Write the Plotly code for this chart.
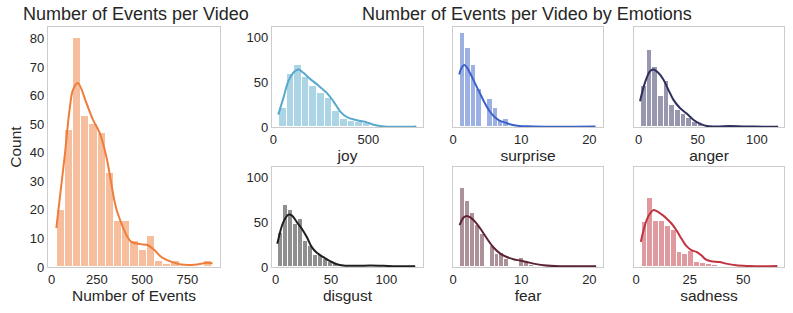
import plotly.graph_objects as go

W, H = 793, 313

# ---------------- data ----------------
total_bin_start, total_bin_width = 27, 45.3
total_counts = [20, 48, 80, 53, 50, 47, 33, 16, 16, 9, 6, 11, 2, 1, 2, 0, 0, 0, 2]
total_kde_x = [26, 72, 99, 118, 145, 192, 228, 265, 302, 346, 365, 438, 493, 530, 567, 604, 659, 714, 788, 862, 889]
total_kde_y = [13.6, 38.7, 55, 62, 64.4, 57.4, 51.6, 47, 38.7, 23.5, 18.8, 8.9, 8.0, 7.7, 6.0, 3.6, 1.9, 0.9, 0.8, 1.5, 1.2]

emotions = ["joy", "surprise", "anger", "disgust", "fear", "sadness"]

joy_bin_start, joy_bin_width = 30, 40
joy_counts = [21, 59, 70, 56, 46, 38, 32, 18, 9, 7, 6, 5, 1, 0, 0, 0, 0, 1]
joy_kde_x = [26, 53, 79, 105, 132, 158, 193, 237, 281, 316, 351, 386, 439, 492, 527, 582, 653, 723, 752]
joy_kde_y = [13.9, 32.6, 51.3, 60.7, 64.4, 60.7, 53.9, 46.4, 38.2, 28.8, 17.6, 11.2, 7.5, 5.2, 2.6, 0.7, 0.4, 0.4, 0.7]

surprise_bin_start, surprise_bin_width = 1.0, 0.8
surprise_counts = [105, 88, 70, 43, 0, 31, 21, 7, 9, 0, 1, 1, 0, 0, 1, 0, 0, 0, 0, 0, 0, 0, 0, 0, 1]
surprise_kde_x = [0.92, 1.26, 1.6, 1.99, 2.47, 3.2, 3.92, 4.65, 5.38, 6.1, 6.83, 7.8, 8.77, 9.74, 11.7, 15.5, 20.9]
surprise_kde_y = [58.8, 66.3, 69.3, 67.4, 60.7, 49.4, 38.2, 27, 17.6, 11.2, 7.1, 4.5, 2.2, 1.1, 0.7, 0.4, 0.7]

anger_bin_start, anger_bin_width = 2.1, 4.79
anger_counts = [46, 86, 67, 35, 52, 25, 19, 15, 10, 6, 3, 2, 1, 0, 1, 1, 0, 0, 0, 0, 0, 0, 0, 1]
anger_kde_x = [1.3, 4.1, 6.9, 9.7, 12.5, 16.7, 21, 25.2, 29.4, 35, 40.7, 46.3, 51.9, 57.6, 66, 77.3, 88.5, 105.4, 118]
anger_kde_y = [28.8, 43.8, 55, 62.5, 64.4, 60.7, 53.2, 41.9, 30.7, 21.3, 15, 8.2, 3.7, 1.1, 0.7, 1.1, 0.7, 0.4, 0.4]

disgust_bin_start, disgust_bin_width = 2.5, 4.52
disgust_counts = [38, 69, 64, 48, 54, 29, 24, 13, 14, 9, 6, 4, 2, 1, 1, 0, 1, 1, 0, 0, 1, 0, 0, 0, 0, 0, 0, 1]
disgust_kde_x = [1.6, 4.1, 7, 11.6, 14.6, 19.2, 23.7, 28.2, 32.7, 37.2, 43.2, 49.2, 55.3, 61.2, 73.4, 85.4, 97.4, 109.5, 126]
disgust_kde_y = [26, 39, 50.3, 58.6, 57.9, 50.3, 42.9, 33.5, 22.2, 15.9, 11, 6.5, 3.1, 1.7, 1.3, 1.7, 1.3, 0.9, 0.9]

fear_bin_start, fear_bin_width = 1.0, 0.727
fear_counts = [88, 74, 61, 47, 37, 0, 24, 15, 16, 9, 0, 0, 10, 6, 2, 1, 0, 1, 0, 0, 0, 1, 0, 0, 0, 0, 0, 1]
fear_kde_x = [0.97, 1.55, 2.05, 2.53, 3.26, 4.0, 4.98, 5.95, 6.93, 7.9, 8.87, 9.85, 10.8, 11.8, 13.3, 15.7, 18.2, 21]
fear_kde_y = [46.8, 55.5, 57, 55.5, 50.6, 43.1, 31.9, 21.8, 15, 11.2, 8.7, 7.2, 5.6, 3.8, 1.9, 0.8, 0.8, 0.8]

sadness_bin_start, sadness_bin_width = 2.5, 2.73
sadness_counts = [50, 77, 52, 51, 46, 42, 17, 15, 18, 6, 5, 3, 2, 1, 1, 1, 0, 0, 0, 1, 0, 0, 0, 1]
sadness_kde_x = [2.2, 3.4, 4.9, 6.5, 8, 9.6, 11.9, 14.2, 16.5, 18.8, 21.1, 23.5, 25.8, 28.1, 30.4, 32.7, 35, 38.9, 42, 46.6, 52.8, 58.9, 65.9]
sadness_kde_y = [28.1, 40.5, 52.5, 60, 63.7, 62.6, 58.9, 54.4, 48.7, 41.2, 31.9, 23.3, 18.8, 16.9, 13.1, 8.2, 6.4, 5.6, 3.8, 1.9, 1.1, 0.8, 1.1]

total_ticks = [0, 250, 500, 750]
count_ticks = [0, 10, 20, 30, 40, 50, 60, 70, 80]
emotion_count_ticks = [0, 50, 100]
emotion_ticks = {
    "joy": [0, 500], "surprise": [0, 10, 20], "anger": [0, 50, 100],
    "disgust": [0, 50, 100], "fear": [0, 10, 20], "sadness": [0, 25, 50],
}

# ---------------- styling ----------------
FONT = "Liberation Sans, Arial, Helvetica, sans-serif"
TXT = "#262626"
SPINE = "#cccccc"

line_colors = {
    "total": "#ee7d3b", "joy": "#58a9cc", "surprise": "#3c62c8", "anger": "#2f2f5e",
    "disgust": "#1f1f1f", "fear": "#5c2333", "sadness": "#c03440",
}

x_ranges = {
    "total": [-20, 930], "joy": [-7, 787], "surprise": [0, 22], "anger": [-3.8, 122.9],
    "disgust": [-3.2, 133], "fear": [0, 22], "sadness": [-1, 69],
}


def rgba(hexc, a):
    h = hexc.lstrip("#")
    r, g, b = int(h[0:2], 16), int(h[2:4], 16), int(h[4:6], 16)
    return f"rgba({r},{g},{b},{a})"


# pixel boxes (left, top, right, bottom)
boxes = {
    "total": (48, 27, 220, 267),
    "joy": (272, 27, 423, 127), "surprise": (453, 27, 603, 127), "anger": (634, 27, 784, 127),
    "disgust": (272, 167, 423, 267), "fear": (453, 167, 603, 267), "sadness": (634, 167, 784, 267),
}

data = {
    "total": (total_bin_start, total_bin_width, total_counts, total_kde_x, total_kde_y),
    "joy": (joy_bin_start, joy_bin_width, joy_counts, joy_kde_x, joy_kde_y),
    "surprise": (surprise_bin_start, surprise_bin_width, surprise_counts, surprise_kde_x, surprise_kde_y),
    "anger": (anger_bin_start, anger_bin_width, anger_counts, anger_kde_x, anger_kde_y),
    "disgust": (disgust_bin_start, disgust_bin_width, disgust_counts, disgust_kde_x, disgust_kde_y),
    "fear": (fear_bin_start, fear_bin_width, fear_counts, fear_kde_x, fear_kde_y),
    "sadness": (sadness_bin_start, sadness_bin_width, sadness_counts, sadness_kde_x, sadness_kde_y),
}

fig = go.Figure()
layout = {}
panels = ["total"] + emotions
for i, name in enumerate(panels):
    idx = i + 1
    xa = "x" if idx == 1 else f"x{idx}"
    ya = "y" if idx == 1 else f"y{idx}"
    start, width, counts, kx, ky = data[name]
    centers = [start + width * (k + 0.5) for k in range(len(counts))]
    col = line_colors[name]
    fig.add_trace(go.Bar(
        x=centers, y=counts, width=[width] * len(counts),
        marker=dict(color=rgba(col, 0.5), line=dict(color="white", width=1)),
        xaxis=xa, yaxis=ya, showlegend=False, hoverinfo="skip",
    ))
    fig.add_trace(go.Scatter(
        x=kx, y=ky, mode="lines", line=dict(color=col, width=2, shape="spline", smoothing=1.0),
        xaxis=xa, yaxis=ya, showlegend=False, hoverinfo="skip",
    ))
    l, t, r, b = boxes[name]
    xdom = [l / W, r / W]
    ydom = [(H - b) / H, (H - t) / H]
    axis_common = dict(showgrid=False, zeroline=False, showline=True, linecolor=SPINE,
                       linewidth=1.2, mirror=True, ticks="", automargin=False,
                       tickfont=dict(family=FONT, size=13, color=TXT))
    xkey = "xaxis" if idx == 1 else f"xaxis{idx}"
    ykey = "yaxis" if idx == 1 else f"yaxis{idx}"
    if name == "total":
        layout[xkey] = dict(domain=xdom, anchor=ya, range=x_ranges[name], tickvals=total_ticks,
                            title=dict(text="Number of Events", font=dict(family=FONT, size=15.5, color=TXT), standoff=2),
                            **axis_common)
        layout[ykey] = dict(domain=ydom, anchor=xa, range=[0, 84], tickvals=count_ticks,
                            title=dict(text="Count", font=dict(family=FONT, size=15.5, color=TXT), standoff=4),
                            **axis_common)
    else:
        layout[xkey] = dict(domain=xdom, anchor=ya, range=x_ranges[name], tickvals=emotion_ticks[name],
                            title=dict(text=name, font=dict(family=FONT, size=15.5, color=TXT), standoff=2),
                            **axis_common)
        first_col = name in ("joy", "disgust")
        layout[ykey] = dict(domain=ydom, anchor=xa, range=[0, 112], tickvals=emotion_count_ticks,
                            showticklabels=first_col, **axis_common)

fig.update_layout(**layout)
fig.update_layout(
    width=W, height=H, margin=dict(l=0, r=0, t=0, b=0, autoexpand=False),
    paper_bgcolor="white", plot_bgcolor="white", barmode="overlay", bargap=0,
    font=dict(family=FONT, color=TXT),
    annotations=[
        dict(text="Number of Events per Video", x=136 / W, y=1 - 14 / H, xref="paper", yref="paper",
             showarrow=False, xanchor="center", yanchor="middle", font=dict(family=FONT, size=18, color=TXT)),
        dict(text="Number of Events per Video by Emotions", x=527 / W, y=1 - 14 / H, xref="paper", yref="paper",
             showarrow=False, xanchor="center", yanchor="middle", font=dict(family=FONT, size=18, color=TXT)),
    ],
)

fig.write_html("out.html", config={"displayModeBar": False},
               post_script="document.body.style.margin='0';")
